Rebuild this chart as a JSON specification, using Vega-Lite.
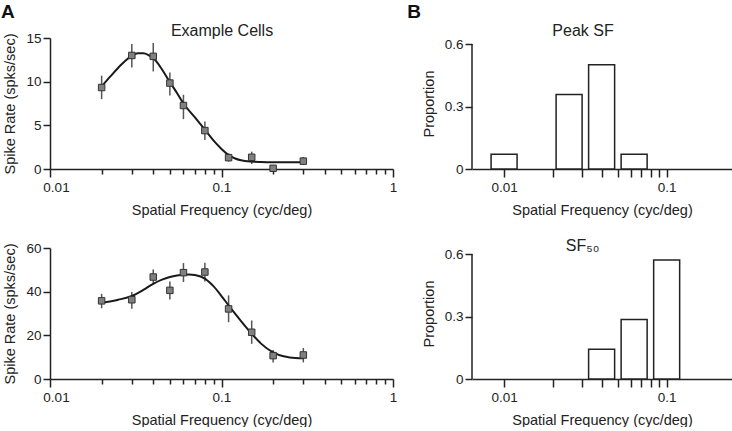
{
  "$schema": "https://vega.github.io/schema/vega-lite/v6.json",
  "padding": {"left": 0, "top": 3, "right": 0, "bottom": 0},
  "background": "white",
  "config": {
    "font": "Liberation Sans",
    "view": {"stroke": null},
    "axis": {"grid": false, "domainColor": "#222", "domainWidth": 1.5, "tickColor": "#222", "tickWidth": 1.5, "labelFont": "Liberation Sans", "labelFontSize": 13.5, "labelColor": "#222", "titleFont": "Liberation Sans", "titleFontSize": 14.5, "titleFontWeight": "normal", "titleColor": "#222", "labelOverlap": false, "labelFlush": false},
    "title": {"font": "Liberation Sans", "fontSize": 19, "fontWeight": "bold", "color": "#111"}
  },
  "datasets": {
    "cellA_pts": [
      {"sf": 0.02, "rate": 9.33, "lo": 8.0, "hi": 10.68},
      {"sf": 0.03, "rate": 13.0, "lo": 11.63, "hi": 14.31},
      {"sf": 0.04, "rate": 12.9, "lo": 11.17, "hi": 14.43},
      {"sf": 0.05, "rate": 9.84, "lo": 8.42, "hi": 11.06},
      {"sf": 0.06, "rate": 7.27, "lo": 5.71, "hi": 8.5},
      {"sf": 0.08, "rate": 4.4, "lo": 3.33, "hi": 5.43},
      {"sf": 0.11, "rate": 1.3, "lo": 0.84, "hi": 1.8},
      {"sf": 0.15, "rate": 1.34, "lo": 0.57, "hi": 1.99},
      {"sf": 0.2, "rate": 0.08, "lo": -0.35, "hi": 0.45},
      {"sf": 0.3, "rate": 0.9, "lo": 0.46, "hi": 1.38}
    ],
    "cellA_fit": [
      {"sf": 0.02, "rate": 9.45}, {"sf": 0.0225, "rate": 10.6}, {"sf": 0.025, "rate": 11.6}, {"sf": 0.0275, "rate": 12.4},
      {"sf": 0.03, "rate": 12.95}, {"sf": 0.0325, "rate": 13.25}, {"sf": 0.035, "rate": 13.25}, {"sf": 0.0375, "rate": 13.05},
      {"sf": 0.04, "rate": 12.7}, {"sf": 0.045, "rate": 11.4}, {"sf": 0.05, "rate": 9.95}, {"sf": 0.055, "rate": 8.7},
      {"sf": 0.06, "rate": 7.5}, {"sf": 0.07, "rate": 5.9}, {"sf": 0.08, "rate": 4.5}, {"sf": 0.09, "rate": 3.25},
      {"sf": 0.1, "rate": 2.3}, {"sf": 0.11, "rate": 1.6}, {"sf": 0.12, "rate": 1.2}, {"sf": 0.13, "rate": 1.0},
      {"sf": 0.15, "rate": 0.85}, {"sf": 0.17, "rate": 0.8}, {"sf": 0.2, "rate": 0.77}, {"sf": 0.25, "rate": 0.76}, {"sf": 0.3, "rate": 0.76}
    ],
    "cellB_pts": [
      {"sf": 0.02, "rate": 35.8, "lo": 32.4, "hi": 39.0},
      {"sf": 0.03, "rate": 36.3, "lo": 32.2, "hi": 39.8},
      {"sf": 0.04, "rate": 46.7, "lo": 43.4, "hi": 50.2},
      {"sf": 0.05, "rate": 40.6, "lo": 36.4, "hi": 44.7},
      {"sf": 0.06, "rate": 48.7, "lo": 44.4, "hi": 53.1},
      {"sf": 0.08, "rate": 49.0, "lo": 44.7, "hi": 53.3},
      {"sf": 0.11, "rate": 32.1, "lo": 26.0, "hi": 38.3},
      {"sf": 0.15, "rate": 21.4, "lo": 16.1, "hi": 26.8},
      {"sf": 0.2, "rate": 10.7, "lo": 7.6, "hi": 13.3},
      {"sf": 0.3, "rate": 11.0, "lo": 7.6, "hi": 14.2}
    ],
    "cellB_fit": [
      {"sf": 0.02, "rate": 34.9}, {"sf": 0.025, "rate": 36.3}, {"sf": 0.03, "rate": 38.0}, {"sf": 0.035, "rate": 40.8},
      {"sf": 0.04, "rate": 43.6}, {"sf": 0.045, "rate": 45.5}, {"sf": 0.05, "rate": 46.7}, {"sf": 0.055, "rate": 47.4},
      {"sf": 0.06, "rate": 47.8}, {"sf": 0.065, "rate": 47.9}, {"sf": 0.07, "rate": 47.6}, {"sf": 0.08, "rate": 46.0},
      {"sf": 0.09, "rate": 42.4}, {"sf": 0.1, "rate": 38.0}, {"sf": 0.11, "rate": 33.7}, {"sf": 0.12, "rate": 29.9},
      {"sf": 0.13, "rate": 26.5}, {"sf": 0.15, "rate": 20.7}, {"sf": 0.17, "rate": 16.2}, {"sf": 0.2, "rate": 12.2},
      {"sf": 0.23, "rate": 10.4}, {"sf": 0.25, "rate": 9.9}, {"sf": 0.3, "rate": 9.5}
    ],
    "peak_sf": [
      {"lo": 0.008318, "hi": 0.012023, "p": 0.0714},
      {"lo": 0.020893, "hi": 0.0302, "p": 0.3571},
      {"lo": 0.033113, "hi": 0.047863, "p": 0.5},
      {"lo": 0.052481, "hi": 0.075858, "p": 0.0714}
    ],
    "sf50": [
      {"lo": 0.033113, "hi": 0.047863, "p": 0.1429},
      {"lo": 0.052481, "hi": 0.075858, "p": 0.2857},
      {"lo": 0.083176, "hi": 0.120226, "p": 0.5714}
    ]
  },
  "columns": 2,
  "bounds": "flush",
  "spacing": {"row": 79, "column": 79},
  "concat": [
    {
      "width": 343, "height": 131,
      "title": {"text": "A", "anchor": "start", "baseline": "alphabetic", "offset": -15, "dx": -2},
      "resolve": {"axis": {"x": "independent"}},
      "layer": [
        {"data": {"name": "cellA_pts"}, "mark": {"type": "rule", "color": "#555", "strokeWidth": 1.5},
          "encoding": {
            "x": {"field": "sf", "type": "quantitative", "scale": {"type": "log", "domain": [0.01, 1], "nice": false},
              "axis": {"title": "Spatial Frequency (cyc/deg)", "values": [0.01,0.02,0.03,0.04,0.05,0.06,0.07,0.08,0.09,0.1,0.2,0.3,0.4,0.5,0.6,0.7,0.8,0.9,1],
                "labelExpr": "datum.value == 0.01 ? '0.01' : datum.value == 0.1 ? '0.1' : datum.value == 1 ? '1' : ''",
                "tickSize": {"condition": {"test": "datum.value == 0.01 || datum.value == 0.1 || datum.value == 1", "value": 8}, "value": 5},
                "labelOffset": {"condition": {"test": "datum.value == 0.01", "value": 6}, "value": 0},
                "labelPadding": 3, "titlePadding": 10}},
            "y": {"field": "lo", "type": "quantitative", "scale": {"domain": [0, 15]}, "axis": {"title": "Spike Rate (spks/sec)", "values": [0, 5, 10, 15], "tickSize": 7, "labelPadding": 2, "titlePadding": 8}},
            "y2": {"field": "hi"}}},
        {"data": {"name": "cellA_fit"}, "mark": {"type": "line", "interpolate": "monotone", "color": "#1a1a1a", "strokeWidth": 2},
          "encoding": {
            "x": {"field": "sf", "type": "quantitative", "scale": {"type": "log", "domain": [0.01, 1], "nice": false},
              "axis": {"orient": "top", "title": "Example Cells", "domain": false, "ticks": false, "labels": false, "titleFontSize": 16, "titleColor": "#222", "titleBaseline": "alphabetic", "titleY": -3}},
            "y": {"field": "rate", "type": "quantitative", "scale": {"domain": [0, 15]}, "axis": {"title": "Spike Rate (spks/sec)", "values": [0, 5, 10, 15], "tickSize": 7, "labelPadding": 2, "titlePadding": 8}}}},
        {"data": {"name": "cellA_pts"}, "mark": {"type": "point", "shape": "square", "filled": true, "size": 42, "color": "#808080", "stroke": "#333", "strokeWidth": 1, "opacity": 1},
          "encoding": {
            "x": {"field": "sf", "type": "quantitative", "scale": {"type": "log", "domain": [0.01, 1], "nice": false}, "axis": null},
            "y": {"field": "rate", "type": "quantitative", "scale": {"domain": [0, 15]}, "axis": {"title": "Spike Rate (spks/sec)", "values": [0, 5, 10, 15], "tickSize": 7, "labelPadding": 2, "titlePadding": 8}}}}
      ]
    },
    {
      "width": 260, "height": 131,
      "title": {"text": "B", "anchor": "start", "baseline": "alphabetic", "offset": -15, "dx": -14},
      "resolve": {"axis": {"x": "independent"}},
      "layer": [
        {"data": {"name": "peak_sf"}, "mark": {"type": "rect", "fill": "white", "stroke": "#222", "strokeWidth": 1.5},
          "encoding": {
            "x": {"field": "lo", "type": "quantitative", "scale": {"type": "log", "domain": [0.00635, 0.2523], "nice": false},
              "axis": {"title": "Spatial Frequency (cyc/deg)", "values": [0.01,0.02,0.03,0.04,0.05,0.06,0.07,0.08,0.09,0.1],
                "labelExpr": "datum.value == 0.01 ? '0.01' : datum.value == 0.1 ? '0.1' : ''",
                "tickSize": 8, "labelPadding": 3, "titlePadding": 10}},
            "x2": {"field": "hi"},
            "y": {"field": "p", "type": "quantitative", "scale": {"domain": [0, 0.6288]},
              "axis": {"title": "Proportion", "values": [0, 0.3, 0.6], "format": "~g", "tickSize": 7, "labelPadding": 2, "titlePadding": 8, "domain": false}},
            "y2": {"datum": 0}}},
        {"data": {"values": [{}]}, "mark": {"type": "rule", "color": "#222", "strokeWidth": 1.5},
          "encoding": {
            "x": {"datum": 0.00635, "type": "quantitative", "scale": {"type": "log", "domain": [0.00635, 0.2523], "nice": false},
              "axis": {"orient": "top", "title": "Peak SF", "domain": false, "ticks": false, "labels": false, "titleFontSize": 16, "titleColor": "#222", "titleBaseline": "alphabetic", "titleY": -3, "titleX": 110.5}},
            "y": {"datum": 0, "type": "quantitative", "scale": {"domain": [0, 0.6288]},
              "axis": {"title": "Proportion", "values": [0, 0.3, 0.6], "format": "~g", "tickSize": 7, "labelPadding": 2, "titlePadding": 8, "domain": false}},
            "y2": {"datum": 0.6}}}
      ]
    },
    {
      "width": 343, "height": 131,
      "layer": [
        {"data": {"name": "cellB_pts"}, "mark": {"type": "rule", "color": "#555", "strokeWidth": 1.5},
          "encoding": {
            "x": {"field": "sf", "type": "quantitative", "scale": {"type": "log", "domain": [0.01, 1], "nice": false},
              "axis": {"title": "Spatial Frequency (cyc/deg)", "values": [0.01,0.02,0.03,0.04,0.05,0.06,0.07,0.08,0.09,0.1,0.2,0.3,0.4,0.5,0.6,0.7,0.8,0.9,1],
                "labelExpr": "datum.value == 0.01 ? '0.01' : datum.value == 0.1 ? '0.1' : datum.value == 1 ? '1' : ''",
                "tickSize": {"condition": {"test": "datum.value == 0.01 || datum.value == 0.1 || datum.value == 1", "value": 8}, "value": 5},
                "labelOffset": {"condition": {"test": "datum.value == 0.01", "value": 6}, "value": 0},
                "labelPadding": 3, "titlePadding": 10}},
            "y": {"field": "lo", "type": "quantitative", "scale": {"domain": [0, 60]}, "axis": {"title": "Spike Rate (spks/sec)", "values": [0, 20, 40, 60], "tickSize": 7, "labelPadding": 2, "titlePadding": 8}},
            "y2": {"field": "hi"}}},
        {"data": {"name": "cellB_fit"}, "mark": {"type": "line", "interpolate": "monotone", "color": "#1a1a1a", "strokeWidth": 2},
          "encoding": {
            "x": {"field": "sf", "type": "quantitative", "scale": {"type": "log", "domain": [0.01, 1], "nice": false}},
            "y": {"field": "rate", "type": "quantitative", "scale": {"domain": [0, 60]}}}},
        {"data": {"name": "cellB_pts"}, "mark": {"type": "point", "shape": "square", "filled": true, "size": 42, "color": "#808080", "stroke": "#333", "strokeWidth": 1, "opacity": 1},
          "encoding": {
            "x": {"field": "sf", "type": "quantitative", "scale": {"type": "log", "domain": [0.01, 1], "nice": false}},
            "y": {"field": "rate", "type": "quantitative", "scale": {"domain": [0, 60]}}}}
      ]
    },
    {
      "width": 260, "height": 131,
      "resolve": {"axis": {"x": "independent"}},
      "layer": [
        {"data": {"name": "sf50"}, "mark": {"type": "rect", "fill": "white", "stroke": "#222", "strokeWidth": 1.5},
          "encoding": {
            "x": {"field": "lo", "type": "quantitative", "scale": {"type": "log", "domain": [0.00635, 0.2523], "nice": false},
              "axis": {"title": "Spatial Frequency (cyc/deg)", "values": [0.01,0.02,0.03,0.04,0.05,0.06,0.07,0.08,0.09,0.1],
                "labelExpr": "datum.value == 0.01 ? '0.01' : datum.value == 0.1 ? '0.1' : ''",
                "tickSize": 8, "labelPadding": 3, "titlePadding": 10}},
            "x2": {"field": "hi"},
            "y": {"field": "p", "type": "quantitative", "scale": {"domain": [0, 0.6288]},
              "axis": {"title": "Proportion", "values": [0, 0.3, 0.6], "format": "~g", "tickSize": 7, "labelPadding": 2, "titlePadding": 8, "domain": false}},
            "y2": {"datum": 0}}},
        {"data": {"values": [{}]}, "mark": {"type": "rule", "color": "#222", "strokeWidth": 1.5},
          "encoding": {
            "x": {"datum": 0.00635, "type": "quantitative", "scale": {"type": "log", "domain": [0.00635, 0.2523], "nice": false},
              "axis": {"orient": "top", "title": "SF₅₀", "domain": false, "ticks": false, "labels": false, "titleFontSize": 16, "titleColor": "#222", "titleBaseline": "alphabetic", "titleY": 2, "titleX": 110}},
            "y": {"datum": 0, "type": "quantitative", "scale": {"domain": [0, 0.6288]},
              "axis": {"title": "Proportion", "values": [0, 0.3, 0.6], "format": "~g", "tickSize": 7, "labelPadding": 2, "titlePadding": 8, "domain": false}},
            "y2": {"datum": 0.6}}}
      ]
    }
  ]
}
